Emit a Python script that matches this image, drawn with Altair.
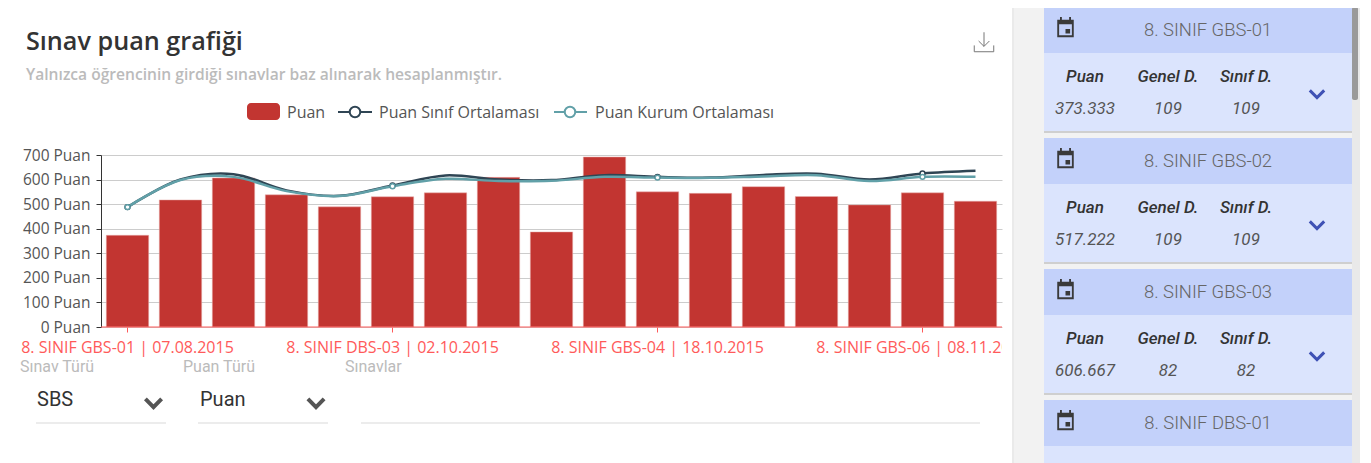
import altair as alt
import pandas as pd

exams = ["8. SINIF GBS-01 | 07.08.2015", "Sınav 2", "Sınav 3", "Sınav 4", "Sınav 5",
         "8. SINIF DBS-03 | 02.10.2015", "Sınav 7", "Sınav 8", "Sınav 9", "Sınav 10",
         "8. SINIF GBS-04 | 18.10.2015", "Sınav 12", "Sınav 13", "Sınav 14", "Sınav 15",
         "8. SINIF GBS-06 | 08.11.2015", "Sınav 17"]
tick_exams = [exams[0], exams[5], exams[10], exams[15]]
scores = [373.333, 517.222, 606.667, 538, 489, 530, 546, 609, 387, 692, 550, 544, 571, 531, 497, 546, 512]
class_avg = [488, 600, 622, 556, 534, 576, 617, 600, 598, 618, 611, 608, 619, 624, 600, 625, 636]
inst_avg = [488, 598, 611, 553, 533, 573, 603, 594, 595, 611, 608, 607, 613, 618, 594, 611, 611]
y_ticks = [0, 100, 200, 300, 400, 500, 600, 700]
cards = [("8. SINIF GBS-01", "373.333", "109", "109"),
         ("8. SINIF GBS-02", "517.222", "109", "109"),
         ("8. SINIF GBS-03", "606.667", "82", "82"),
         ("8. SINIF DBS-01", "", "", "")]

OX, OY = 101, 155
W, H = 901, 172
CW, CH = 1352, 455
BAR, DARK, TEAL = "#c23531", "#2f4554", "#61a0a8"
LABEL_RED = "#ff5a5a"
ONE = alt.Data(values=[{}])
FONT = "Open Sans"
ROBOTO = "Roboto"


def px(v):
    return v - OX


def py(v):
    return v - OY


def rect(x0, y0, x1, y1, color, radius=0):
    m = alt.Chart(ONE).mark_rect(color=color, cornerRadius=radius)
    return m.encode(x=alt.value(px(x0)), x2=alt.value(px(x1)), y=alt.value(py(y0)), y2=alt.value(py(y1)))


def text(t, x, y, size=14, color="#555555", font=FONT, align="left", weight="normal", style="normal"):
    return alt.Chart(ONE).mark_text(
        text=t, font=font, fontSize=size, color=color, align=align, baseline="middle",
        fontWeight=weight, fontStyle=style,
    ).encode(x=alt.value(px(x)), y=alt.value(py(y)))


def icon(shape, x, y, size, fill=None, stroke=None, sw=1):
    kw = dict(shape=shape, size=size, opacity=1)
    if fill:
        kw.update(filled=True, fill=fill, strokeWidth=0)
    else:
        kw.update(filled=False, stroke=stroke, strokeWidth=sw, fillOpacity=0)
    return alt.Chart(ONE).mark_point(**kw).encode(x=alt.value(px(x)), y=alt.value(py(y)))


CAL = ("M-0.75,-0.75L0.75,-0.75L0.75,0.83L-0.75,0.83Z"
       "M-0.58,-0.33L-0.58,0.67L0.58,0.67L0.58,-0.33Z"
       "M0,0.08L0.42,0.08L0.42,0.5L0,0.5Z"
       "M-0.5,-1L-0.33,-1L-0.33,-0.75L-0.5,-0.75Z"
       "M0.33,-1L0.5,-1L0.5,-0.75L0.33,-0.75Z")
CHEV = "M-0.9,-0.45L0,0.45L0.9,-0.45"
DOWNLOAD = "M0,-1L0,0.45M-0.55,-0.1L0,0.45L0.55,-0.1M-1,0.35L-1,1L1,1L1,0.35"

df_bar = pd.DataFrame({"exam": exams, "score": scores})
df_line = pd.concat([
    pd.DataFrame({"exam": exams, "val": class_avg, "series": "Puan Sınıf Ortalaması"}),
    pd.DataFrame({"exam": exams, "val": inst_avg, "series": "Puan Kurum Ortalaması"}),
])
df_pts = df_line[df_line.exam.isin(tick_exams)]

xs = alt.Scale(domain=exams, paddingInner=0.2, paddingOuter=0.1)
ys = alt.Scale(domain=[0, 700], nice=False)
cs = alt.Scale(domain=["Puan Sınıf Ortalaması", "Puan Kurum Ortalaması"], range=[DARK, TEAL])
x_axis = alt.Axis(
    values=tick_exams, labelColor=LABEL_RED, labelFont=FONT, labelFontSize=16, labelAngle=0,
    labelPadding=7, labelOverlap=False, labelBound=False, labelFlush=False, labelLimit=0,
    tickColor=LABEL_RED, tickSize=5, domain=False, grid=False, title=None)
y_axis = alt.Axis(
    values=y_ticks, tickCount=8, labelExpr="datum.value + ' Puan'", labelColor="#555555", labelFont=FONT,
    labelFontSize=15.5, labelPadding=6, tickColor="#333333", tickSize=5, domainColor="#333333",
    grid=True, gridColor="#cccccc", labelBound=False, labelOverlap=False, labelFlush=False, title=None)

bars = alt.Chart(df_bar).mark_bar(color=BAR, stroke="#e8b0ae", strokeWidth=0.5).encode(
    x=alt.X("exam:N", scale=xs, sort=exams, axis=x_axis),
    y=alt.Y("score:Q", scale=ys, axis=y_axis),
)
baseline = alt.Chart(pd.DataFrame({"v": [0]})).mark_rule(color=LABEL_RED, strokeWidth=1).encode(
    y=alt.Y("v:Q", scale=ys, axis=y_axis), x=alt.value(0), x2=alt.value(W))
lines = alt.Chart(df_line).mark_line(interpolate="catmull-rom", strokeWidth=2.5).encode(
    x=alt.X("exam:N", scale=xs, sort=exams, axis=x_axis), y=alt.Y("val:Q", scale=ys, axis=y_axis),
    color=alt.Color("series:N", scale=cs, legend=None), order=alt.value(0))
pts = alt.Chart(df_pts).mark_point(filled=True, fill="white", size=24, strokeWidth=1.5, opacity=1).encode(
    x=alt.X("exam:N", scale=xs, sort=exams, axis=x_axis), y=alt.Y("val:Q", scale=ys, axis=y_axis),
    stroke=alt.Color("series:N", scale=cs, legend=None))

layers = [bars, baseline, lines, pts]

# page chrome around the plot
layers += [
    rect(1002, 332, 1012, 362, "#ffffff"),
    rect(1012, 0, 1352, 463, "#f2f2f2"),
    rect(1012, 0, 1014, 463, "#eaeaea"),
    rect(1352, 0, 1360, 463, "#e9e9e9"),
    rect(1352, 7, 1358, 100, "#9a9a9a", 2),
]

layers += [
    text("Sınav puan grafiği", 26, 42, 25.2, "#333333", weight=600),
    text("Yalnızca öğrencinin girdiği sınavlar baz alınarak hesaplanmıştır.", 26, 75, 15.6, "#bbbbbb", weight=600),
    icon(DOWNLOAD, 984, 42, 380, stroke="#777777", sw=1),
]

# legend
layers += [rect(247, 103, 280, 120, BAR, 4), text("Puan", 287, 113, 16)]
for x0, x1, cx, col, lab, tx in [(338, 372, 355, DARK, "Puan Sınıf Ortalaması", 379),
                                 (554, 587, 570, TEAL, "Puan Kurum Ortalaması", 595)]:
    layers.append(rect(x0, 111, x1, 113, col))
    layers.append(alt.Chart(ONE).mark_point(filled=True, fill="white", stroke=col, strokeWidth=2, size=110, opacity=1)
                  .encode(x=alt.value(px(cx)), y=alt.value(py(112))))
    layers.append(text(lab, tx, 113, 16))

# selects
layers += [
    text("Sınav Türü", 20, 367, 16, "#bbbbbb", ROBOTO),
    text("Puan Türü", 183, 367, 16, "#bbbbbb", ROBOTO),
    text("Sınavlar", 345, 367, 16, "#bbbbbb", ROBOTO),
    text("SBS", 37, 400, 20, "#333333", ROBOTO),
    text("Puan", 200, 400, 20, "#333333", ROBOTO),
    icon(CHEV, 153.5, 403, 324, stroke="#555555", sw=4),
    icon(CHEV, 316, 403, 324, stroke="#555555", sw=4),
    rect(36, 422, 166, 424, "#ececec"),
    rect(198, 422, 328, 424, "#ececec"),
    rect(361, 422, 980, 424, "#ececec"),
]

# exam cards
for i, (name, puan, genel, sinif) in enumerate(cards):
    t = 7 + 131 * i
    bottom = min(t + 124, 463)
    layers += [
        rect(1044, t, 1352, t + 46, "#c3d1fa"),
        rect(1044, t + 46, 1352, bottom, "#dbe4fd"),
        icon(CAL, 1065.5, t + 21, 484, fill="#3a3a3a"),
        text(name, 1208, t + 23, 18.4, "#666666", ROBOTO, "center", 300),
    ]
    if t + 126 < 463:
        layers.append(rect(1044, t + 124, 1352, t + 126, "#cfcfcf"))
        for cx, head, val in [(1085, "Puan", puan), (1168, "Genel D.", genel), (1246, "Sınıf D.", sinif)]:
            layers.append(text(head, cx, t + 70, 17, "#333333", ROBOTO, "center", 500, "italic"))
            layers.append(text(val, cx, t + 102, 17, "#555555", ROBOTO, "center", "normal", "italic"))
        layers.append(icon(CHEV, 1317, t + 87, 256, stroke="#3f51b5", sw=3))

chart = alt.layer(*layers).resolve_scale(color="shared").properties(
    width=W, height=H,
    autosize=alt.AutoSizeParams(type="none"),
    padding={"left": OX - 8, "top": OY - 8, "right": CW - (OX - 8) - W, "bottom": CH - (OY - 8) - H},
).configure_view(stroke=None)

chart.save("out.html", embed_options={"renderer": "svg", "actions": False})
